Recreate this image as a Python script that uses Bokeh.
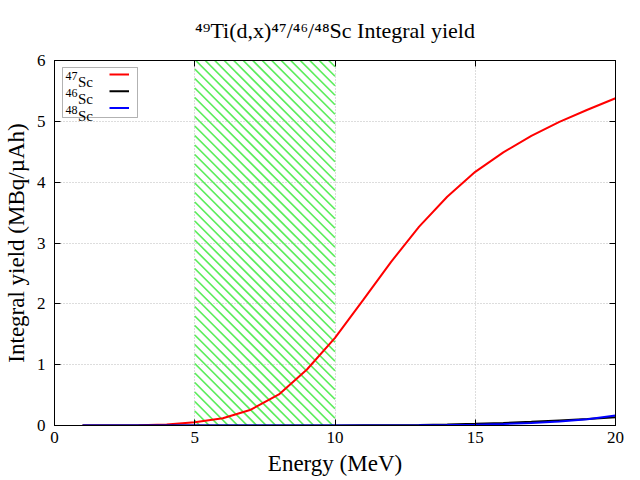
import numpy as np
from bokeh.plotting import figure
from bokeh.models import (Range1d, LinearAxis, FixedTicker, Label, Title,
                          BoxAnnotation, Arrow)
from bokeh.embed import file_html
from bokeh.resources import INLINE

# ---------------- data ----------------
energy = [1, 2, 3, 4, 5, 6, 7, 8, 9, 10, 11, 12, 13, 14, 15, 16, 17, 18, 19, 20]
sc47 = [0.0, 0.0, 0.004, 0.016, 0.054, 0.12, 0.26, 0.51, 0.92, 1.44,
        2.06, 2.69, 3.27, 3.76, 4.17, 4.49, 4.76, 4.99, 5.19, 5.38]
sc46 = [0.0, 0.0, 0.0, 0.0, 0.0, 0.0, 0.0, 0.0, 0.0, 0.001,
        0.003, 0.005, 0.01, 0.017, 0.028, 0.042, 0.06, 0.084, 0.108, 0.137]
sc48 = [0.0, 0.0, 0.0, 0.0, 0.0, 0.0, 0.0, 0.0, 0.0, 0.0,
        0.0, 0.001, 0.003, 0.007, 0.013, 0.024, 0.042, 0.066, 0.103, 0.165]
series = [sc47, sc46, sc48]
mass_numbers = ["47", "46", "48"]
series_colors = ["#ff0000", "#000000", "#0000ff"]
energy_window = [5, 10]
x_ticks = [0, 5, 10, 15, 20]
y_ticks = [0, 1, 2, 3, 4, 5, 6]
x_range = (0, 20)
y_range = (0, 6)
title_text = "\u2074\u2079Ti(d,x)\u2074\u2077/\u2074\u2076/\u2074\u2078Sc Integral yield"
x_label = "Energy (MeV)"
y_label = "Integral yield (MBq/\u00b5Ah)"

FONT = "Liberation Serif"
W, H = 640, 480
BL, BR, BT, BB = 54, 25, 60, 55
FRAME_W, FRAME_H = W - BL - BR, H - BT - BB

p = figure(width=W, height=H, output_backend="svg", toolbar_location=None,
           x_range=Range1d(*x_range), y_range=Range1d(*y_range),
           min_border_left=BL, min_border_right=BR,
           min_border_top=BT, min_border_bottom=BB)
p.background_fill_color = "white"
p.border_fill_color = "white"
p.outline_line_color = "black"
p.outline_line_width = 1
p.title.visible = False

# axes
for ax in (p.xaxis[0], p.yaxis[0]):
    ax.major_tick_in = 6
    ax.major_tick_out = 0
    ax.minor_tick_line_color = None
    ax.axis_line_color = "black"
    ax.major_tick_line_color = "black"
    ax.major_label_text_font = FONT
    ax.major_label_text_font_size = "17px"
    ax.major_label_text_color = "black"
    ax.axis_label_text_font = FONT
    ax.axis_label_text_font_size = "23px"
    ax.axis_label_text_font_style = "normal"
    ax.axis_label_text_color = "black"
p.xaxis[0].ticker = FixedTicker(ticks=x_ticks)
p.yaxis[0].ticker = FixedTicker(ticks=y_ticks)
p.xaxis[0].major_label_standoff = 6
p.yaxis[0].major_label_standoff = 9
p.xaxis[0].axis_label = x_label
p.yaxis[0].axis_label = y_label
p.xaxis[0].axis_label_standoff = 5
p.yaxis[0].axis_label_standoff = 5

# mirrored ticks (no labels); added before the title so they sit on the frame
for loc, ticks in (("right", y_ticks), ("above", x_ticks)):
    ax = LinearAxis(ticker=FixedTicker(ticks=ticks))
    ax.major_tick_in = 6
    ax.major_tick_out = 0
    ax.minor_tick_line_color = None
    ax.major_label_text_font_size = "1px"
    ax.major_label_text_color = None
    ax.major_label_standoff = 0
    ax.axis_line_color = "black"
    ax.major_tick_line_color = "black"
    p.add_layout(ax, loc)

# title (an extra blank line with tight line height lifts the text line)
p.add_layout(Title(text=title_text + "\n ", align="center",
                   text_font=FONT, text_font_size="22px",
                   text_font_style="normal", text_color="black",
                   text_line_height=0.68, standoff=2), "above")

# grid
for g in (p.xgrid[0], p.ygrid[0]):
    g.grid_line_color = "#bbbbbb"
    g.grid_line_dash = "1 2"
    g.grid_line_width = 1
p.xgrid[0].ticker = FixedTicker(ticks=x_ticks)
p.ygrid[0].ticker = FixedTicker(ticks=y_ticks)

# hatched energy window: 45-degree (screen) lines clipped to the window
px_x = FRAME_W / (x_range[1] - x_range[0])
px_y = FRAME_H / (y_range[1] - y_range[0])
win_w = (energy_window[1] - energy_window[0]) * px_x
win_h = (y_range[1] - y_range[0]) * px_y
spacing, phase = 9.5, 1.0
cs = np.arange(phase - np.ceil(win_h / spacing) * spacing, win_w, spacing)
u0 = np.maximum(0, cs)
u1 = np.minimum(win_w, win_h + cs)
keep = u1 > u0
cs, u0, u1 = cs[keep], u0[keep], u1[keep]
hx0 = energy_window[0] + u0 / px_x
hx1 = energy_window[0] + u1 / px_x
hy0 = y_range[1] - (u0 - cs) / px_y
hy1 = y_range[1] - (u1 - cs) / px_y
p.segment(x0=hx0, y0=hy0, x1=hx1, y1=hy1, line_color="#5ced5c",
          line_width=1.7)

# curves
for ys, c in zip(series, series_colors):
    p.line(energy, ys, line_color=c, line_width=2)

# legend (text left, sample right)
p.add_layout(BoxAnnotation(left=8, right=83, top=358, bottom=308,
                           left_units="screen", right_units="screen",
                           top_units="screen", bottom_units="screen",
                           fill_color="white", fill_alpha=1,
                           line_color="black", line_width=1))
row_y = [351, 334.3, 317.6]
for m, c, yy in zip(mass_numbers, series_colors, row_y):
    p.add_layout(Label(x=11, y=yy - 1.7, x_units="screen", y_units="screen",
                       text=m, text_font=FONT, text_font_size="12px",
                       text_align="left", text_baseline="alphabetic",
                       text_color="black"))
    p.add_layout(Label(x=23.5, y=yy - 7.7, x_units="screen", y_units="screen",
                       text="Sc", text_font=FONT, text_font_size="15px",
                       text_align="left", text_baseline="alphabetic",
                       text_color="black"))
    p.add_layout(Arrow(x_start=55, y_start=yy, x_end=74.5, y_end=yy,
                       start_units="screen", end_units="screen",
                       start=None, end=None, line_color=c, line_width=2))

open("out.html", "w").write(file_html(p, INLINE))
